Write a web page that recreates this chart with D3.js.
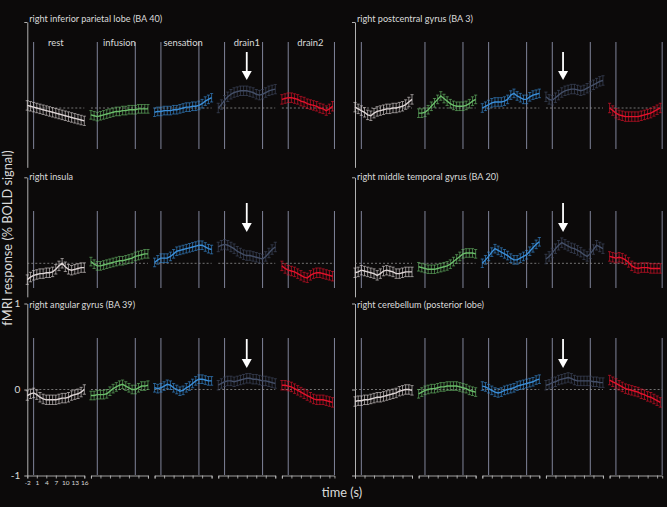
<!DOCTYPE html>
<html><head><meta charset="utf-8">
<script src="https://cdn.jsdelivr.net/npm/d3@7"></script>
<style>html,body{margin:0;padding:0;background:#0c0a0a;} svg{display:block;}</style>
</head><body><svg id="c" width="667" height="507"></svg>
<script>
// ---------- data ----------
const phases = ["rest", "infusion", "sensation", "drain1", "drain2"];
const phaseColors = ["#ddd5d5", "#6abd6a", "#3a8ed8", "#434e66", "#e2122b"];
const regions = [
  "right inferior parietal lobe (BA 40)", "right postcentral gyrus (BA 3)",
  "right insula", "right middle temporal gyrus (BA 20)",
  "right angular gyrus (BA 39)", "right cerebellum (posterior lobe)"
];
const timeTicks = [-2, 1, 4, 7, 10, 13, 16];
const timesFull = [-2, -1, 0, 1, 2, 3, 4, 5, 6, 7, 8, 9, 10, 11, 12, 13, 14, 15, 16];
const timesShort = [-2, -1, 0, 1, 2, 3, 4, 5, 6, 7, 8, 9, 10, 11, 12, 13, 14];
const eventTimes = [[0], [0, 12], [0, 12], [0, 12], [0, 14.6]];
const arrowTimes = [7, 3.4];
const yTicks = [-1, 0, 1];
const yTickLabels = ["-1", "0", "1"];
const sem = [0.055, 0.05, 0.05, 0.055, 0.055];

const inferiorParietal = [
  [0.03, 0.02, 0.01, 0.0, -0.01, -0.02, -0.03, -0.04, -0.05, -0.06, -0.07, -0.08, -0.09, -0.10, -0.11, -0.12, -0.13, -0.14, -0.15],
  [-0.08, -0.09, -0.10, -0.09, -0.08, -0.07, -0.06, -0.05, -0.04, -0.04, -0.03, -0.03, -0.02, -0.02, -0.02, -0.01, -0.01, -0.01, -0.01],
  [-0.05, -0.04, -0.04, -0.03, -0.03, -0.03, -0.02, -0.02, -0.01, 0.0, 0.01, 0.01, 0.02, 0.02, 0.03, 0.05, 0.08, 0.10, 0.12],
  [0.0, 0.04, 0.09, 0.13, 0.16, 0.18, 0.19, 0.20, 0.20, 0.20, 0.19, 0.18, 0.16, 0.15, 0.16, 0.18, 0.20, 0.21, 0.22],
  [0.10, 0.11, 0.12, 0.12, 0.11, 0.10, 0.08, 0.07, 0.05, 0.04, 0.03, 0.02, 0.0, -0.01, -0.03, -0.01, 0.02]
];
const postcentral = [
  [0.01, -0.01, -0.03, -0.05, -0.08, -0.09, -0.06, -0.04, -0.03, -0.02, -0.01, -0.01, 0.0, 0.0, 0.01, 0.02, 0.04, 0.07, 0.10],
  [-0.06, -0.06, -0.05, -0.02, 0.02, 0.06, 0.10, 0.14, 0.11, 0.08, 0.05, 0.03, 0.02, 0.02, 0.02, 0.03, 0.05, 0.08, 0.10],
  [0.0, 0.02, 0.04, 0.06, 0.07, 0.07, 0.07, 0.08, 0.10, 0.15, 0.17, 0.14, 0.12, 0.10, 0.10, 0.13, 0.15, 0.16, 0.17],
  [0.13, 0.10, 0.09, 0.12, 0.15, 0.18, 0.20, 0.21, 0.22, 0.22, 0.21, 0.20, 0.21, 0.23, 0.25, 0.27, 0.29, 0.31, 0.32],
  [0.0, -0.03, -0.06, -0.08, -0.09, -0.10, -0.10, -0.10, -0.10, -0.10, -0.09, -0.08, -0.07, -0.06, -0.04, -0.02, 0.0]
];
const insula = [
  [-0.19, -0.16, -0.14, -0.13, -0.12, -0.12, -0.11, -0.11, -0.10, -0.07, -0.03, 0.0, -0.04, -0.07, -0.08, -0.07, -0.06, -0.05, -0.05],
  [0.02, -0.01, -0.03, -0.03, -0.02, -0.01, 0.0, 0.01, 0.02, 0.03, 0.03, 0.04, 0.05, 0.06, 0.08, 0.09, 0.10, 0.11, 0.11],
  [0.01, 0.04, 0.06, 0.06, 0.06, 0.08, 0.11, 0.14, 0.15, 0.16, 0.17, 0.18, 0.19, 0.20, 0.21, 0.21, 0.19, 0.17, 0.16],
  [0.19, 0.21, 0.22, 0.21, 0.19, 0.17, 0.14, 0.12, 0.10, 0.09, 0.09, 0.08, 0.07, 0.06, 0.05, 0.08, 0.12, 0.16, 0.19],
  [-0.03, -0.06, -0.08, -0.09, -0.10, -0.12, -0.14, -0.16, -0.17, -0.14, -0.12, -0.11, -0.11, -0.12, -0.13, -0.14, -0.15]
];
const middleTemporal = [
  [-0.11, -0.10, -0.08, -0.09, -0.10, -0.11, -0.12, -0.14, -0.12, -0.09, -0.08, -0.09, -0.10, -0.12, -0.12, -0.11, -0.10, -0.10, -0.10],
  [-0.04, -0.05, -0.06, -0.07, -0.07, -0.07, -0.06, -0.05, -0.04, -0.03, -0.01, 0.02, 0.05, 0.08, 0.11, 0.12, 0.12, 0.12, 0.11],
  [0.0, 0.04, 0.08, 0.13, 0.17, 0.15, 0.13, 0.11, 0.09, 0.06, 0.04, 0.04, 0.06, 0.08, 0.10, 0.14, 0.18, 0.22, 0.25],
  [0.05, 0.08, 0.12, 0.17, 0.21, 0.24, 0.22, 0.20, 0.18, 0.17, 0.15, 0.13, 0.10, 0.08, 0.11, 0.16, 0.21, 0.19, 0.17],
  [0.08, 0.07, 0.06, 0.07, 0.06, 0.04, 0.01, -0.03, -0.05, -0.06, -0.05, -0.05, -0.05, -0.06, -0.06, -0.06, -0.06]
];
const angular = [
  [-0.07, -0.05, -0.04, -0.06, -0.09, -0.11, -0.12, -0.12, -0.12, -0.12, -0.11, -0.10, -0.10, -0.09, -0.07, -0.06, -0.05, -0.03, 0.0],
  [-0.07, -0.07, -0.06, -0.06, -0.06, -0.05, -0.02, 0.01, 0.03, 0.05, 0.06, 0.04, 0.02, 0.0, 0.0, 0.02, 0.04, 0.04, 0.05],
  [0.02, 0.01, 0.02, 0.04, 0.06, 0.05, 0.02, 0.0, -0.02, -0.01, 0.02, 0.04, 0.07, 0.10, 0.12, 0.12, 0.11, 0.10, 0.10],
  [0.05, 0.07, 0.09, 0.10, 0.10, 0.09, 0.10, 0.11, 0.12, 0.13, 0.13, 0.12, 0.12, 0.11, 0.10, 0.10, 0.09, 0.08, 0.07],
  [0.05, 0.05, 0.04, 0.03, 0.01, -0.01, -0.03, -0.05, -0.07, -0.09, -0.11, -0.12, -0.12, -0.12, -0.13, -0.14, -0.15]
];
const cerebellum = [
  [-0.14, -0.13, -0.13, -0.12, -0.12, -0.11, -0.10, -0.09, -0.09, -0.08, -0.07, -0.06, -0.05, -0.04, -0.02, -0.01, 0.0, 0.0, -0.01],
  [-0.05, -0.03, -0.01, 0.0, 0.01, 0.01, 0.02, 0.03, 0.03, 0.04, 0.04, 0.04, 0.04, 0.03, 0.02, 0.01, -0.01, -0.02, -0.03],
  [0.04, 0.03, 0.01, -0.01, -0.03, -0.04, -0.03, -0.01, 0.0, 0.01, 0.02, 0.04, 0.05, 0.06, 0.07, 0.08, 0.09, 0.11, 0.12],
  [0.05, 0.06, 0.08, 0.09, 0.11, 0.12, 0.13, 0.14, 0.13, 0.11, 0.10, 0.10, 0.10, 0.10, 0.10, 0.09, 0.09, 0.08, 0.08],
  [0.11, 0.09, 0.07, 0.05, 0.03, 0.01, 0.0, -0.01, -0.02, -0.03, -0.05, -0.06, -0.08, -0.09, -0.11, -0.13, -0.15]
];
const panelData = [inferiorParietal, postcentral, insula, middleTemporal, angular, cerebellum];

// ---------- layout ----------
const W = 667, H = 507;
const colX = [27.3, 355];
const segStep = 63.65, segW = 57;
const rowZero = [108, 263.3, 389.5];
const unit = 86;
const eventY = [[42, 149], [211, 288], [338, 475]];
const axisBottomVal = [-0.69, -0.39, -1];
const arrowY = [[52, 80], [203, 232], [339, 368]];
const titleY = [22, 180, 308];
const font = "Lato, 'Open Sans', sans-serif";
const textCol = "#dadada";

const svg = d3.select("#c");
svg.append("rect").attr("width", W).attr("height", H).attr("fill", "#0c0a0a");

function yScale(r) {
  return d3.scaleLinear().domain([-1, 1]).range([rowZero[r] + unit, rowZero[r] - unit]);
}
function xScale(c, i) {
  const s = colX[c] + i * segStep;
  return d3.scaleLinear().domain([-2, 16]).range([s, s + segW]);
}

for (let p = 0; p < 6; p++) {
  const r = Math.floor(p / 2), c = p % 2;
  const y = yScale(r);
  const g = svg.append("g");

  // title
  g.append("text").attr("x", colX[c] + 2).attr("y", titleY[r])
    .attr("fill", textCol).attr("font-family", font).attr("font-size", 9.1)
    .text(regions[p]);

  // y axis
  const ya = d3.scaleLinear().domain([axisBottomVal[r], 1]).range([y(axisBottomVal[r]), y(1)]);
  const yAxisG = g.append("g").attr("transform", `translate(${colX[c]},0)`)
    .call(d3.axisLeft(ya).tickValues(r === 2 ? yTicks : [1]).tickSize(3).tickSizeOuter(0)
      .tickFormat(r === 2 && c === 0 ? (d => yTickLabels[yTicks.indexOf(d)]) : () => ""));
  yAxisG.selectAll("path,line").attr("stroke", "#c4c4c4").attr("stroke-width", 0.9);
  yAxisG.selectAll("text").attr("fill", textCol).attr("font-family", font).attr("font-size", 10).attr("dx", -1);

  for (let i = 0; i < 5; i++) {
    const x = xScale(c, i);
    const times = i === 4 ? timesShort : timesFull;
    const endT = i === 4 ? 14.6 : 16;
    const vals = panelData[p][i];

    // event lines
    eventTimes[i].forEach(t => {
      g.append("line").attr("x1", x(t)).attr("x2", x(t))
        .attr("y1", eventY[r][0]).attr("y2", eventY[r][1])
        .attr("stroke", "#80849a").attr("stroke-width", 1);
    });

    // zero dashed line
    g.append("line").attr("x1", x(-2)).attr("x2", x(endT))
      .attr("y1", y(0)).attr("y2", y(0))
      .attr("stroke", "#8e8e8e").attr("stroke-width", 0.8).attr("stroke-dasharray", "2,2");

    // error bars
    const eb = g.append("g").attr("stroke", phaseColors[i]).attr("stroke-width", 0.7).attr("opacity", 0.9);
    vals.forEach((v, k) => {
      const xx = x(times[k]);
      const y1 = y(v - sem[i]), y2 = y(v + sem[i]);
      eb.append("line").attr("x1", xx).attr("x2", xx).attr("y1", y1).attr("y2", y2);
      eb.append("line").attr("x1", xx - 1.6).attr("x2", xx + 1.6).attr("y1", y1).attr("y2", y1);
      eb.append("line").attr("x1", xx - 1.6).attr("x2", xx + 1.6).attr("y1", y2).attr("y2", y2);
    });

    // trace
    g.append("path").datum(vals)
      .attr("d", d3.line().x((v, k) => x(times[k])).y(v => y(v)))
      .attr("fill", "none").attr("stroke", phaseColors[i]).attr("stroke-width", 1.4);

    // bottom axis (row 3 only)
    if (r === 2) {
      const xa = d3.scaleLinear().domain([-2, endT]).range([x(-2), x(endT)]);
      const ax = g.append("g").attr("transform", `translate(0,${y(-1)})`)
        .call(d3.axisBottom(xa).tickValues(timeTicks.filter(t => t <= endT)).tickSize(3).tickSizeOuter(3)
          .tickFormat(c === 0 && i === 0 ? (d => String(d)) : () => ""));
      ax.selectAll("path,line").attr("stroke", "#c4c4c4").attr("stroke-width", 0.8);
      ax.selectAll("text").attr("fill", textCol).attr("font-family", font).attr("font-size", 6.5).attr("dy", "0.55em");
    }

    // phase labels (top-left panel only)
    if (p === 0) {
      g.append("text").attr("x", x(7)).attr("y", 46).attr("text-anchor", "middle")
        .attr("fill", textCol).attr("font-family", font).attr("font-size", 9.4)
        .text(phases[i]);
    }

    // arrow in drain1
    if (i === 3) {
      const ax = x(arrowTimes[c]);
      g.append("line").attr("x1", ax).attr("x2", ax)
        .attr("y1", arrowY[r][0]).attr("y2", arrowY[r][1] - 7)
        .attr("stroke", "#ffffff").attr("stroke-width", 1.8);
      g.append("path")
        .attr("d", `M${ax - 5},${arrowY[r][1] - 9} L${ax + 5},${arrowY[r][1] - 9} L${ax},${arrowY[r][1]} Z`)
        .attr("fill", "#ffffff");
    }
  }
}

// axis titles
svg.append("text").attr("transform", `translate(12,238) rotate(-90)`)
  .attr("text-anchor", "middle").attr("fill", textCol).attr("font-family", font).attr("font-size", 12.8)
  .text("fMRI response (% BOLD signal)");
svg.append("text").attr("x", 342).attr("y", 497).attr("text-anchor", "middle")
  .attr("fill", textCol).attr("font-family", font).attr("font-size", 12.8)
  .text("time (s)");
</script>
</body></html>
